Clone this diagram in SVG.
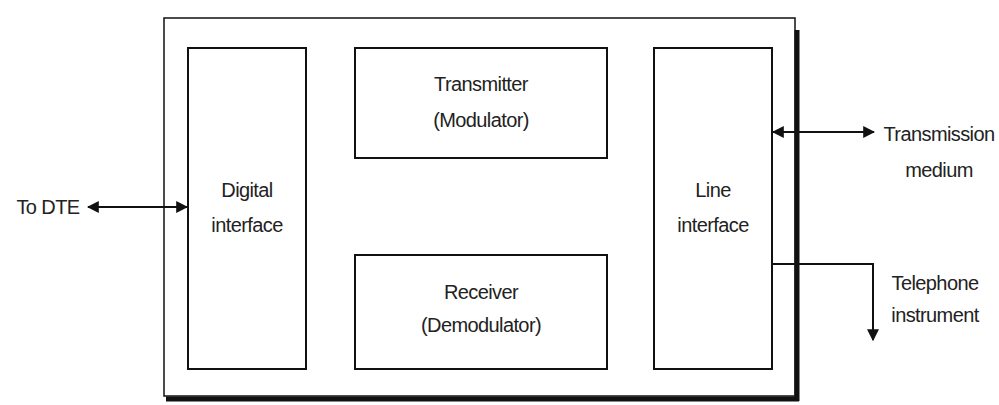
<svg xmlns="http://www.w3.org/2000/svg" width="999" height="405" viewBox="0 0 999 405">
<style>
.box{fill:#fff;stroke:#111;stroke-width:2}
.t{font-family:"Liberation Sans Narrow","Liberation Sans",Arial,sans-serif;font-size:20px;letter-spacing:-0.6px;fill:#222;text-anchor:middle;dominant-baseline:central}
.c{fill:none;stroke:#111;stroke-width:2}
</style>
<defs>
<marker id="ah" viewBox="0 0 10 10" refX="9" refY="5" markerWidth="12" markerHeight="12" markerUnits="userSpaceOnUse" orient="auto-start-reverse">
<path d="M0,0 L10,5 L0,10 z" fill="#111"/>
</marker>
</defs>
<rect width="999" height="405" fill="#fff"/>
<g id="outer">
<rect x="164" y="18" width="631" height="378" fill="#fff" stroke="#111" stroke-width="1.5"/>
<line x1="797" y1="30" x2="797" y2="401" stroke="#111" stroke-width="5"/>
<line x1="166" y1="399" x2="799" y2="399" stroke="#111" stroke-width="5"/>
</g>
<g id="digital">
<rect class="box" x="188" y="48" width="118" height="321"/>
<text class="t" x="247" y="190">Digital</text>
<text class="t" x="247" y="225">interface</text>
</g>
<g id="transmitter">
<rect class="box" x="355" y="48" width="252" height="110"/>
<text class="t" x="481" y="84">Transmitter</text>
<text class="t" x="481" y="120">(Modulator)</text>
</g>
<g id="receiver">
<rect class="box" x="355" y="255" width="252" height="114"/>
<text class="t" x="481" y="292">Receiver</text>
<text class="t" x="481" y="325">(Demodulator)</text>
</g>
<g id="line">
<rect class="box" x="654" y="48" width="118" height="321"/>
<text class="t" x="713" y="190">Line</text>
<text class="t" x="713" y="225">interface</text>
</g>
<g id="labels">
<text class="t" x="48" y="207">To DTE</text>
<text class="t" x="939" y="134">Transmission</text>
<text class="t" x="939" y="170">medium</text>
<text class="t" x="935" y="283">Telephone</text>
<text class="t" x="935" y="315">instrument</text>
</g>
<g id="connectors">
<line class="c" x1="88" y1="207" x2="187" y2="207" marker-start="url(#ah)" marker-end="url(#ah)"/>
<line class="c" x1="773" y1="132" x2="874" y2="132" marker-start="url(#ah)" marker-end="url(#ah)"/>
<polyline class="c" points="772,264 873,264 873,340" marker-end="url(#ah)"/>
</g>
</svg>
